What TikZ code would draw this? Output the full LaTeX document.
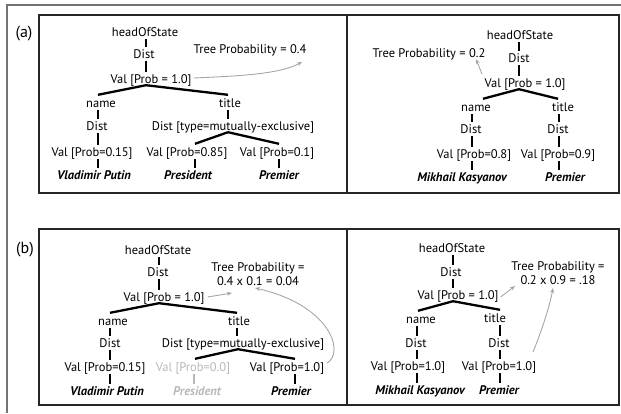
\documentclass[tikz,border=0pt]{standalone}
\usepackage{fontspec}
\setmainfont{PT Sans}
\usetikzlibrary{calc,arrows.meta}
\newcommand\vc[3]{\draw[conn] ($(#1.south -| #3,0)+(0,3)$) -- ($(#2.north -| #3,0)+(0,-3)$);}
\newcommand\br[4]{\draw[conn] ($(#1.south -| #3,0)+(0,2)$) -- ($(#2.north -| #4,0)+(0,-4)$);}
\begin{document}
\begin{tikzpicture}[x=1pt,y=-1pt,
  txt/.style={inner sep=0pt,text height=8pt,text depth=0pt,font=\fontsize{12.5}{14}\selectfont},
  nm/.style={txt,font=\fontsize{12.5}{14}\selectfont\bfseries\itshape},
  multi/.style={inner sep=0pt,align=center,font=\fontsize{12.5}{14}\selectfont},
  lbl/.style={inner sep=0pt,font=\fontsize{16}{18}\selectfont},
  faded/.style={text=black!28},
  conn/.style={line width=2.3pt,black},
  fadedconn/.style={line width=2.3pt,black!28},
  garrow/.style={draw=black!35,line width=0.9pt,-{Stealth[length=5pt,width=4pt]}},
  box/.style={draw=black!85,line width=1.6pt},
  frame/.style={draw=black!55,line width=1.6pt}]
\useasboundingbox (0,0) rectangle (621,413);
\draw[frame] (7,413) -- (7,5) -- (621,5);
\draw[box] (39,15) rectangle (619,193);
\draw[box] (347,15) -- (347,193);
\draw[box] (39,229) rectangle (619,405);
\draw[box] (347,229) -- (347,405);
\node[lbl] (la) at (24,34) {(a)};
\node[lbl] (lb) at (25,250) {(b)};
% ---------- panel (a) left
\node[txt] (aH) at (145,32) {headOfState};
\node[txt] (aD) at (144,54) {Dist};
\node[txt] (aV) at (151,79) {Val [Prob = 1.0]};
\node[txt] (aN) at (101,103) {name};
\node[txt] (aT) at (230,103) {title};
\node[txt] (aND) at (97,126) {Dist};
\node[txt] (aTD) at (233,126) {Dist [type=mutually-exclusive]};
\node[txt] (aNV) at (92,152) {Val [Prob=0.15]};
\node[txt] (aV1) at (187,152) {Val [Prob=0.85]};
\node[txt] (aV2) at (277,152) {Val [Prob=0.1]};
\node[nm] (aNP) at (94,175) {Vladimir Putin};
\node[nm] (aP1) at (188,175) {President};
\node[nm] (aP2) at (279,175) {Premier};
\node[txt] (aTree) at (250,49) {Tree Probability = 0.4};
\coordinate (aTip) at (302,62);
\vc{aH}{aD}{146}\vc{aD}{aV}{146}
\br{aV}{aN}{146}{98}\br{aV}{aT}{146}{228}
\vc{aN}{aND}{98}\vc{aND}{aNV}{98}\vc{aNV}{aNP}{98}
\vc{aT}{aTD}{228}
\br{aTD}{aV1}{228}{195}\br{aTD}{aV2}{228}{279}
\vc{aV1}{aP1}{195}\vc{aV2}{aP2}{279}
\draw[garrow] ($(aV.east)+(2,-1)$) .. controls (240,76) and (280,74) .. (aTip);
% ---------- panel (a) right
\node[txt] (bH) at (520,35) {headOfState};
\node[txt] (bD) at (519,58) {Dist};
\node[txt] (bV) at (525,83) {Val [Prob = 1.0]};
\node[txt] (bN) at (476,107) {name};
\node[txt] (bT) at (563,107) {title};
\node[txt] (bND) at (471,129) {Dist};
\node[txt] (bTD) at (558,129) {Dist};
\node[txt] (bNV) at (474,154) {Val [Prob=0.8]};
\node[txt] (bTV) at (558,154) {Val [Prob=0.9]};
\node[nm] (bNP) at (462,177) {Mikhail Kasyanov};
\node[nm] (bTP) at (565,177) {Premier};
\node[txt] (bTree) at (429,53) {Tree Probability = 0.2};
\coordinate (bTip) at (476,59);
\coordinate (bStart) at (482,74);
\vc{bH}{bD}{519}\vc{bD}{bV}{519}
\br{bV}{bN}{519}{483}\br{bV}{bT}{519}{558}
\vc{bN}{bND}{472}\vc{bND}{bNV}{472}\vc{bNV}{bNP}{472}
\vc{bT}{bTD}{559}\vc{bTD}{bTV}{559}\vc{bTV}{bTP}{559}
\draw[garrow] (bStart) -- (bTip);
% ---------- panel (b) left
\node[txt] (cH) at (158,250) {headOfState};
\node[txt] (cD) at (158,272) {Dist};
\node[txt] (cV) at (164,297) {Val [Prob = 1.0]};
\node[txt] (cN) at (113,321) {name};
\node[txt] (cT) at (239,321) {title};
\node[txt] (cND) at (110,343) {Dist};
\node[txt] (cTD) at (243,343) {Dist [type=mutually-exclusive]};
\node[txt] (cNV) at (105,367) {Val [Prob=0.15]};
\node[txt,faded] (cV1) at (193,367) {Val [Prob=0.0]};
\node[txt] (cV2) at (287,367) {Val [Prob=1.0]};
\node[nm] (cNP) at (107,391) {Vladimir Putin};
\node[nm,faded] (cP1) at (197,391) {President};
\node[nm] (cP2) at (291,391) {Premier};
\node[multi] (cTree) at (258,274) {Tree Probability =\\0.4 x 0.1 = 0.04};
\coordinate (cTip1) at (232,293);
\coordinate (cTip2) at (255,288);
\vc{cH}{cD}{159}\vc{cD}{cV}{159}
\br{cV}{cN}{159}{110}\br{cV}{cT}{159}{237}
\vc{cN}{cND}{110}\vc{cND}{cNV}{110}\vc{cNV}{cNP}{110}
\vc{cT}{cTD}{237}
\br{cTD}{cV1}{238}{195}\br{cTD}{cV2}{238}{295}
\draw[fadedconn] ($(cV1.south -| 194,0)+(0,3)$) -- ($(cP1.north -| 194,0)+(0,-3)$);
\vc{cV2}{cP2}{295}
\draw[garrow] ($(cV.east)+(3,0)$) -- (cTip1);
\draw[garrow] ($(cV2.east)+(3,-4)$) .. controls (345,352) and (330,305) .. (cTip2);
% ---------- panel (b) right
\node[txt] (dH) at (452,248) {headOfState};
\node[txt] (dD) at (451,272) {Dist};
\node[txt] (dV) at (458,295) {Val [Prob = 1.0]};
\node[txt] (dN) at (421,319) {name};
\node[txt] (dT) at (495,318) {title};
\node[txt] (dND) at (416,343) {Dist};
\node[txt] (dTD) at (499,343) {Dist};
\node[txt] (dNV) at (408,366) {Val [Prob=1.0]};
\node[txt] (dTV) at (499,366) {Val [Prob=1.0]};
\node[nm] (dNP) at (420,390) {Mikhail Kasyanov};
\node[nm] (dTP) at (499,390) {Premier};
\node[multi] (dTree) at (558,273) {Tree Probability =\\0.2 x 0.9 = .18};
\coordinate (dTip1) at (515,286);
\coordinate (dTip2) at (553,288);
\coordinate (dStart2) at (533,352);
\vc{dH}{dD}{453}\vc{dD}{dV}{453}
\br{dV}{dN}{453}{418}\br{dV}{dT}{453}{500}
\vc{dN}{dND}{417}\vc{dND}{dNV}{417}\vc{dNV}{dNP}{417}
\vc{dT}{dTD}{500}\vc{dTD}{dTV}{500}\vc{dTV}{dTP}{500}
\draw[garrow] ($(dV.east)+(2,2)$) -- (dTip1);
\draw[garrow] (dStart2) .. controls (542,330) and (550,305) .. (dTip2);
\end{tikzpicture}
\end{document}
